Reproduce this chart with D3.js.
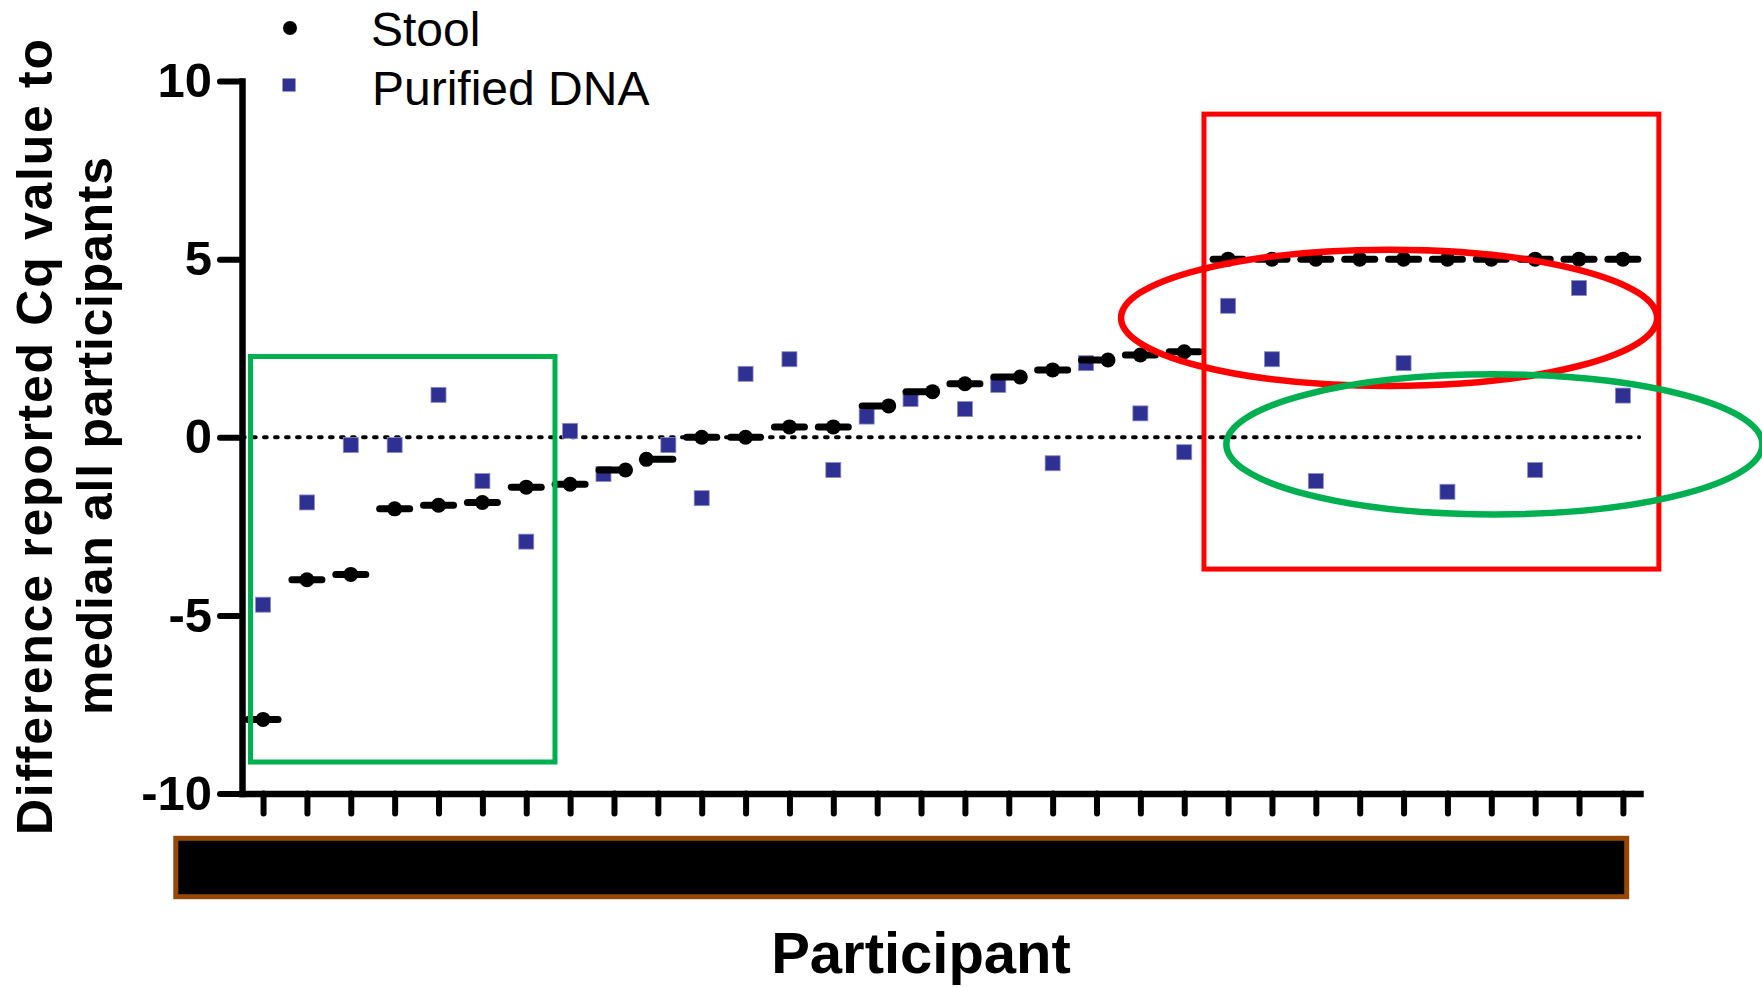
<!DOCTYPE html>
<html><head><meta charset="utf-8">
<script src="https://cdn.jsdelivr.net/npm/d3@7"></script>
<style>html,body{margin:0;padding:0;background:#fff;} svg{display:block;}</style>
</head><body><svg id="c" width="1762" height="987"></svg>
<script>
// ---------------- data ----------------
const participants = [1,2,3,4,5,6,7,8,9,10,11,12,13,14,15,16,17,18,19,20,21,22,23,24,25,26,27,28,29,30,31,32];
const stoolValues = [-7.92,-4.0,-3.85,-2.01,-1.91,-1.83,-1.40,-1.32,-0.92,-0.62,0,0,0.29,0.29,0.88,1.28,1.50,1.69,1.89,2.17,2.31,2.40,5,5,5,5,5,5,5,5,5,5];
const dnaValues = [-4.70,-1.83,-0.22,-0.22,1.19,-1.23,-2.93,0.18,-1.03,-0.22,-1.71,1.78,2.19,-0.92,0.58,1.07,0.79,1.47,-0.73,2.08,0.67,-0.42,3.69,2.19,-1.23,null,2.08,-1.53,null,-0.92,4.19,1.17];
const yTickValues = [-10,-5,0,5,10];
const seriesNames = ["Stool","Purified DNA"];
const yTitleLines = ["Difference reported Cq value to","median all participants"];
const xTitle = "Participant";
// annotation shapes, in data units
const greenBox = [0.714, 7.655, 2.267, -9.116];
const redBox = [22.45, 32.82, 9.07, -3.70];
const redEllipse = [26.67, 3.35, 6.11, 1.91];
const greenEllipse = [29.07, -0.20, 6.11, 1.965];
const hiddenLabelBox = [-0.989, 32.087, -11.257, -12.897];

// ---------------- chart ----------------
const svg = d3.select("#c");
const FONT = "'Liberation Sans', Arial, Helvetica, sans-serif";
const BLUE = "#2E3192", GREEN = "#00B050", RED = "#FF0000", BROWN = "#974706";
const x = d3.scaleLinear().domain([0.52, 32.39]).range([242, 1640]);
const y = d3.scaleLinear().domain([-10, 10]).range([793.5, 81]);
const kx = x(1) - x(0), ky = y(0) - y(1);

// zero dotted line
svg.append("line")
  .attr("x1", x(0.52)).attr("x2", x(32.37))
  .attr("y1", y(0)).attr("y2", y(0))
  .attr("stroke", "#000").attr("stroke-width", 4)
  .attr("stroke-dasharray", "2.7 8.3").attr("stroke-linecap", "round");

// axes
const yAx = svg.append("g").attr("transform", `translate(${x(0.52)},0)`)
  .call(d3.axisLeft(y).tickValues(yTickValues).tickFormat(d => String(d))
    .tickSize(22).tickPadding(8).tickSizeOuter(0));
const xAx = svg.append("g").attr("transform", `translate(0,${y(-10)})`)
  .call(d3.axisBottom(x).tickValues(participants).tickFormat("").tickSize(20).tickSizeOuter(0));
[yAx, xAx].forEach(g => {
  g.select(".domain").attr("stroke", "#000").attr("stroke-width", 6.5).attr("stroke-linecap", "square");
  g.selectAll(".tick line").attr("stroke", "#000").attr("stroke-width", 6).attr("stroke-linecap", "round");
});
yAx.selectAll(".tick text").attr("font-family", FONT).attr("font-weight", "bold")
  .attr("font-size", 49).attr("fill", "#000");

// overlap offsets (stool dot vs DNA square in same column)
function offsets(i) {
  const s = stoolValues[i], d = dnaValues[i];
  if (d == null || Math.abs((s - d) * ky) >= 16) return [0, 0];
  const dir = d < s ? 1 : -1;
  return [11.5 * dir, -10.5 * dir];
}

// purified DNA squares
const sq = 15;
svg.append("g").selectAll("rect")
  .data(participants.map((p, i) => ({p, v: dnaValues[i], off: offsets(i)[1]})).filter(d => d.v != null))
  .join("rect")
  .attr("x", d => x(d.p) + d.off - sq / 2).attr("y", d => y(d.v) - sq / 2)
  .attr("width", sq).attr("height", sq)
  .attr("fill", BLUE).attr("stroke", "#8a8cc8").attr("stroke-width", 0.8);

// stool: median dash + dot
const sg = svg.append("g");
participants.forEach((p, i) => {
  const v = stoolValues[i];
  sg.append("line").attr("x1", x(p) - 15).attr("x2", x(p) + 15)
    .attr("y1", y(v)).attr("y2", y(v))
    .attr("stroke", "#000").attr("stroke-width", 7).attr("stroke-linecap", "round");
  sg.append("circle").attr("cx", x(p) + offsets(i)[0]).attr("cy", y(v)).attr("r", 7.5).attr("fill", "#000");
});

// annotations
function box(b, color, w, fill) {
  svg.append("rect")
    .attr("x", x(b[0])).attr("y", y(b[2]))
    .attr("width", x(b[1]) - x(b[0])).attr("height", y(b[3]) - y(b[2]))
    .attr("fill", fill || "none").attr("stroke", color).attr("stroke-width", w);
}
function ell(e, color, w) {
  svg.append("ellipse")
    .attr("cx", x(e[0])).attr("cy", y(e[1]))
    .attr("rx", e[2] * kx).attr("ry", e[3] * ky)
    .attr("fill", "none").attr("stroke", color).attr("stroke-width", w);
}
box(redBox, RED, 5);
ell(redEllipse, RED, 6.5);
ell(greenEllipse, GREEN, 6.5);
box(greenBox, GREEN, 5);
box(hiddenLabelBox, BROWN, 5, "#000");

// legend
svg.append("circle").attr("cx", 290).attr("cy", 28).attr("r", 7).attr("fill", "#000");
svg.append("rect").attr("x", 282.5).attr("y", 78.5).attr("width", 13).attr("height", 13).attr("fill", BLUE);
svg.append("text").attr("x", 371).attr("y", 46).text(seriesNames[0])
  .attr("font-family", FONT).attr("font-size", 48).attr("fill", "#000");
svg.append("text").attr("x", 372).attr("y", 104.5).text(seriesNames[1])
  .attr("font-family", FONT).attr("font-size", 48).attr("fill", "#000");

// axis titles
[[52, 437, 796], [112, 436, 558]].forEach((c, i) => {
  svg.append("text")
    .attr("transform", `translate(${c[0]},${c[1]}) rotate(-90)`)
    .attr("text-anchor", "middle")
    .attr("textLength", c[2]).attr("lengthAdjust", "spacing")
    .attr("font-family", FONT).attr("font-weight", "bold").attr("font-size", 50)
    .attr("fill", "#000").text(yTitleLines[i]);
});
svg.append("text").attr("x", 921).attr("y", 973).attr("text-anchor", "middle")
  .attr("font-family", FONT).attr("font-weight", "bold").attr("font-size", 58)
  .attr("fill", "#000").text(xTitle);
</script>
</body></html>
